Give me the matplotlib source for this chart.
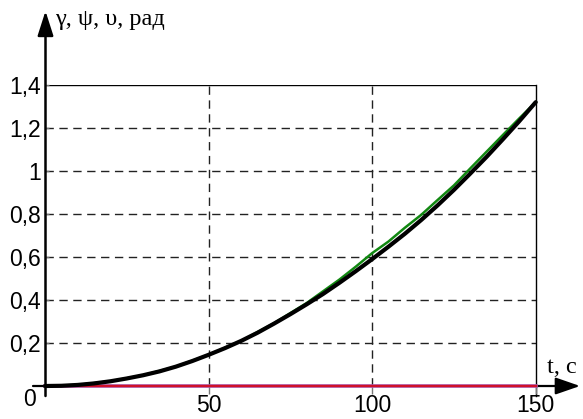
import matplotlib.pyplot as plt

# time, s
t = [0, 5, 10, 15, 20, 25, 30, 35, 40, 45, 50, 55, 60, 65, 70, 75, 80, 85,
     90, 95, 100, 105, 110, 115, 120, 125, 130, 135, 140, 145, 150]
# gamma (thick black)
gamma = [0.0, 0.001, 0.005, 0.012, 0.022, 0.035, 0.050, 0.068, 0.090, 0.116,
         0.145, 0.176, 0.210, 0.248, 0.290, 0.334, 0.380, 0.428, 0.480, 0.534,
         0.590, 0.648, 0.708, 0.772, 0.840, 0.912, 0.988, 1.066, 1.148, 1.232,
         1.320]
# psi (green)
t_psi = [0, 10, 20, 30, 40, 50, 60, 70, 80, 90, 95, 100, 105, 110, 115, 120,
         125, 130, 135, 140, 145, 150]
psi = [0.0, 0.005, 0.022, 0.050, 0.090, 0.145, 0.210, 0.292, 0.386, 0.495,
       0.555, 0.618, 0.672, 0.736, 0.796, 0.865, 0.933, 1.012, 1.090, 1.168,
       1.245, 1.320]
# upsilon (red), stays at zero
t_ups = [0, 150]
upsilon = [0.0, 0.0]

yticks = [0.2, 0.4, 0.6, 0.8, 1.0, 1.2, 1.4]
ylabels = ['0,2', '0,4', '0,6', '0,8', '1', '1,2', '1,4']
xticks = [50, 100, 150]
xlabels = ['50', '100', '150']

W, H = 583, 419
fig = plt.figure(figsize=(W / 100, H / 100), dpi=100)

def fx(px):
    return px / W

def fy(py):
    return 1 - py / H

x0, x1, y0, y1 = 45, 535.7, 386, 85
ax = fig.add_axes([fx(x0), fy(y0), fx(x1) - fx(x0), fy(y1) - fy(y0)])
ax.set_xlim(0, 150)
ax.set_ylim(0, 1.4)
for s in ax.spines.values():
    s.set_visible(False)

dash = (0, (6, 4))
for v in yticks[:-1]:
    ax.axhline(v, color='#222222', lw=1, ls=dash, zorder=1)
for v in xticks[:-1]:
    ax.axvline(v, color='#222222', lw=1, ls=dash, zorder=1)
ax.axhline(1.4, color='k', lw=1, zorder=1)
ax.plot([150, 150], [-0.045, 1.4], color='k', lw=1, clip_on=False, zorder=1)

ax.set_xticks(xticks)
ax.set_xticklabels(xlabels, fontsize=16.5, family='Liberation Sans')
ax.tick_params(axis='x', direction='out', length=6, width=1, color='#777777', pad=0)
ax.set_yticks(yticks)
ax.set_yticklabels(ylabels, fontsize=16.5, family='Liberation Sans')
ax.tick_params(axis='y', direction='in', length=3, width=1, color='#777777', pad=3)

# coordinate axes with arrow heads
ax.annotate('', xy=(fx(580), fy(386)), xytext=(fx(33), fy(386)),
            xycoords='figure fraction', textcoords='figure fraction',
            arrowprops=dict(arrowstyle='-|>,head_length=0.75,head_width=0.26',
                            lw=1.6, color='k', mutation_scale=20,
                            shrinkA=0, shrinkB=0))
ax.annotate('', xy=(fx(45.5), fy(11)), xytext=(fx(45.5), fy(396)),
            xycoords='figure fraction', textcoords='figure fraction',
            arrowprops=dict(arrowstyle='-|>,head_length=0.75,head_width=0.24',
                            lw=1.8, color='k', mutation_scale=20,
                            shrinkA=0, shrinkB=0))

ax.plot(t_ups, upsilon, color='#b05cb0', lw=2.6, clip_on=False, zorder=3)
ax.plot(t_ups, upsilon, color='#d0102a', lw=1.6, clip_on=False, zorder=3)
ax.plot(t_psi, psi, color='#118811', lw=1.8, clip_on=False, zorder=4)
ax.plot(t, gamma, color='k', lw=3.0, clip_on=False, zorder=5,
        solid_capstyle='round', solid_joinstyle='round')

fig.text(fx(30), fy(399), '0', fontsize=16.5, family='Liberation Sans',
         ha='center', va='center')
fig.text(fx(55), fy(20), 'γ, ψ, υ, рад', fontsize=17.5, family='Liberation Serif',
         ha='left', va='center')
fig.text(fx(547), fy(367), 't, c', fontsize=17.5, family='Liberation Serif',
         ha='left', va='center')

fig.savefig('out.png', dpi=100)
